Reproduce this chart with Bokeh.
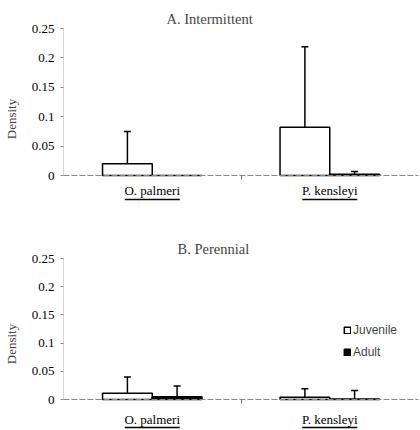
from bokeh.plotting import figure
from bokeh.layouts import column
from bokeh.models import (ColumnDataSource, Range1d, FixedTicker, Whisker, TeeHead,
                          Legend, LegendItem)
from bokeh.embed import file_html
from bokeh.resources import INLINE

categories = ["O. palmeri", "P. kensleyi"]
y_ticks = [0, 0.05, 0.1, 0.15, 0.2, 0.25]
y_tick_labels = ["0", "0.05", "0.1", "0.15", "0.2", "0.25"]

# Panel A: Intermittent (mean density and upper error)
a_juvenile = [0.020, 0.082]
a_juvenile_err = [0.055, 0.137]
a_adult = [0.0, 0.002]
a_adult_err = [0.0, 0.005]

# Panel B: Perennial
b_juvenile = [0.011, 0.004]
b_juvenile_err = [0.029, 0.015]
b_adult = [0.005, 0.001]
b_adult_err = [0.019, 0.015]

SERIF = "Liberation Serif"
SANS = "Liberation Sans"
BAR_W = 0.28
Y_MAX = 0.25


def make_panel(title, title_offset, juv, juv_err, adu, adu_err, height, b_top, b_bottom,
               data_px, lab_standoff, underline_px, legend=False):
    frame_px = height - b_top - b_bottom
    px = Y_MAX / data_px  # data units per pixel
    y_start = -(frame_px - data_px) * px
    p = figure(width=420, height=height, output_backend="svg", toolbar_location=None,
               x_range=Range1d(0, 2), y_range=Range1d(y_start, Y_MAX),
               min_border_left=63, min_border_right=2,
               min_border_top=b_top, min_border_bottom=b_bottom)
    p.title.text = title
    p.title.align = "left"
    p.title.offset = title_offset
    p.title.text_font = SERIF
    p.title.text_font_size = "14.5px"
    p.title.text_font_style = "normal"
    p.title.standoff = 4
    p.outline_line_color = None
    p.xgrid.visible = False
    p.ygrid.visible = False

    centers = [i + 0.5 for i in range(len(categories))]
    xj = [c - BAR_W / 2 for c in centers]
    xa = [c + BAR_W / 2 for c in centers]

    sj = ColumnDataSource(dict(x=xj, top=juv))
    sa = ColumnDataSource(dict(x=xa, top=adu))
    rj = p.vbar(x="x", top="top", bottom=0, width=BAR_W, source=sj,
                fill_color="white", line_color="black", line_width=1.5)
    ra = p.vbar(x="x", top="top", bottom=0, width=BAR_W, source=sa,
                fill_color="black", line_color="black", line_width=1.5)

    wx, wl, wu = [], [], []
    for xs, vals, errs in ((xj, juv, juv_err), (xa, adu, adu_err)):
        for x, v, e in zip(xs, vals, errs):
            if e > 0:
                wx.append(x); wl.append(v); wu.append(v + e)
    ws = ColumnDataSource(dict(x=wx, lower=wl, upper=wu))
    p.add_layout(Whisker(source=ws, base="x", lower="lower", upper="upper",
                         dimension="height", line_color="black", line_width=1.5,
                         upper_head=TeeHead(size=7, line_color="black", line_width=1.5),
                         lower_head=None))

    # y axis
    ya = p.yaxis[0]
    ya.bounds = (0, Y_MAX)
    ya.ticker = FixedTicker(ticks=y_ticks)
    ya.major_label_overrides = {t: l for t, l in zip(y_ticks, y_tick_labels)}
    ya.major_label_text_font = SERIF
    ya.major_label_text_font_style = "normal"
    ya.major_label_text_font_size = "13px"
    ya.major_label_text_color = "black"
    ya.axis_label = "Density"
    ya.axis_label_text_font = SERIF
    ya.axis_label_text_font_size = "13px"
    ya.axis_label_text_font_style = "normal"
    ya.axis_label_standoff = 10
    ya.axis_line_color = "#aaaaaa"
    ya.axis_line_dash = "1 1"
    ya.major_tick_line_color = "#888888"
    ya.major_tick_out = 3
    ya.major_tick_in = 0
    ya.minor_tick_line_color = None
    ya.major_label_standoff = 6

    # x axis drawn at y = 0
    xa_ax = p.xaxis[0]
    xa_ax.fixed_location = 0
    xa_ax.ticker = FixedTicker(ticks=centers, minor_ticks=[1.0])
    xa_ax.major_label_overrides = {c: n for c, n in zip(centers, categories)}
    xa_ax.major_label_text_font = SERIF
    xa_ax.major_label_text_font_style = "normal"
    xa_ax.major_label_text_font_size = "13px"
    xa_ax.major_label_text_color = "black"
    xa_ax.major_label_standoff = lab_standoff
    xa_ax.major_tick_line_color = None
    xa_ax.major_tick_out = 0
    xa_ax.major_tick_in = 0
    xa_ax.minor_tick_line_color = "#666666"
    xa_ax.minor_tick_out = 4
    xa_ax.minor_tick_in = 0
    xa_ax.axis_line_color = "#888888"
    xa_ax.axis_line_dash = "6 2"

    # underlines under category names
    uy = -underline_px * px
    p.segment(x0=[c - 0.155 for c in centers], x1=[c + 0.155 for c in centers],
              y0=[uy] * len(centers), y1=[uy] * len(centers),
              line_color="black", line_width=1.5)

    if legend:
        lg = Legend(items=[LegendItem(label="Juvenile", renderers=[rj]),
                           LegendItem(label="Adult", renderers=[ra])],
                    location=(280, frame_px - data_px + 40), orientation="vertical",
                    glyph_width=8, glyph_height=8, label_height=13,
                    label_standoff=2, spacing=8, padding=0, margin=0,
                    label_text_font=SANS, label_text_font_size="12px",
                    background_fill_alpha=0, border_line_color=None)
        p.add_layout(lg)
    return p


p1 = make_panel("A. Intermittent", 103, a_juvenile, a_juvenile_err, a_adult, a_adult_err,
                215, 28, 6, 147, 3, 24)
p2 = make_panel("B. Perennial", 114, b_juvenile, b_juvenile_err, b_adult, b_adult_err,
                215, 43, 1, 141, 8, 28, legend=True)

layout = column(p1, p2, spacing=0)
open("out.html", "w").write(file_html(layout, INLINE))
